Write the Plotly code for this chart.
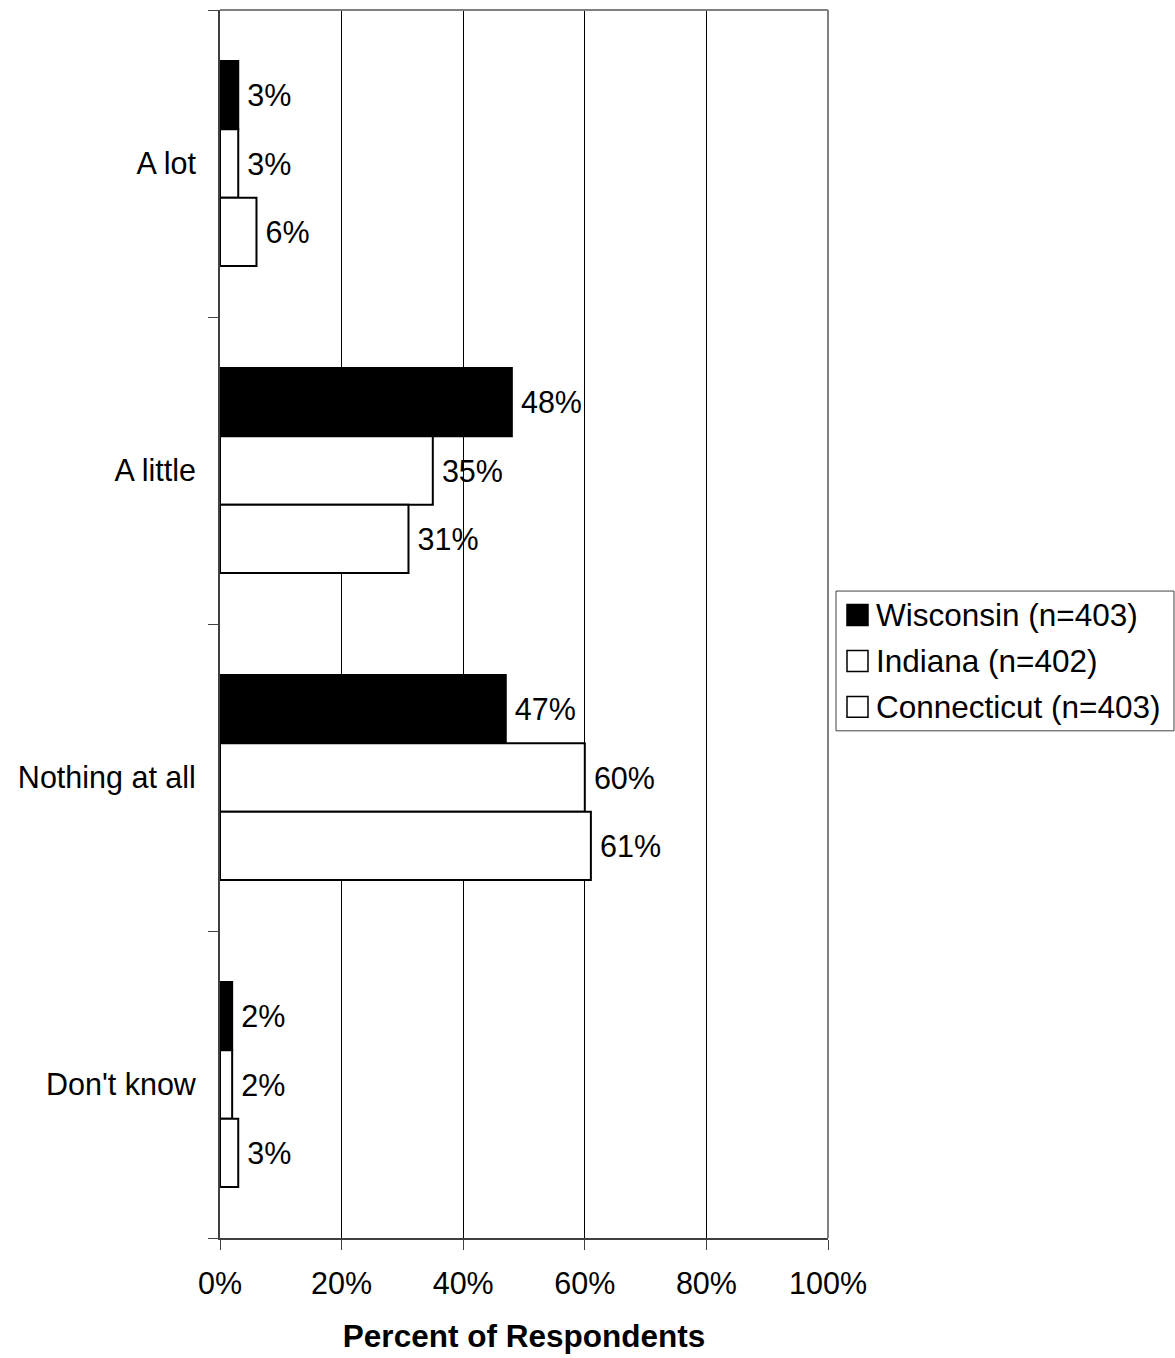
import plotly.graph_objects as go

# Survey responses, percent of respondents per state
categories = ["A lot", "A little", "Nothing at all", "Don't know"]
wisconsin = [3, 48, 47, 2]
indiana = [3, 35, 60, 2]
connecticut = [6, 31, 61, 3]
series_names = ["Wisconsin (n=403)", "Indiana (n=402)", "Connecticut (n=403)"]
series_fills = ["black", "white", "white"]
x_ticks = [0, 20, 40, 60, 80, 100]

FONT = "Arial"
W, H = 1175, 1358
M_L, M_R, M_T, M_B = 220, 347, 10, 118
positions = list(range(len(categories)))

fig = go.Figure()
for name, values, fill in zip(series_names, [wisconsin, indiana, connecticut],
                              series_fills):
    fig.add_trace(go.Bar(
        name=name,
        y=positions,
        x=values,
        orientation="h",
        marker=dict(color=fill, line=dict(color="black", width=2)),
        text=[f"\u2009{v}%" for v in values],
        textposition="outside",
        textfont=dict(family=FONT, size=30.5, color="black"),
        cliponaxis=False,
        showlegend=False,
    ))

fig.update_layout(
    width=W,
    height=H,
    margin=dict(l=M_L, r=M_R, t=M_T, b=M_B),
    paper_bgcolor="white",
    plot_bgcolor="white",
    barmode="group",
    bargap=0.333,
    bargroupgap=0,
    font=dict(family=FONT, size=30.5, color="black"),
    xaxis=dict(
        range=[0, 100],
        tickvals=x_ticks,
        ticktext=[f"{t}%" for t in x_ticks],
        ticks="outside", ticklen=10, tickcolor="#404040", tickwidth=1,
        ticklabelstandoff=7,
        showgrid=True, gridcolor="black", gridwidth=1,
        showline=True, linecolor="#404040", linewidth=2,
        zeroline=False,
        tickfont=dict(family=FONT, size=30.5),
        title=dict(text="<b>Percent of Respondents</b>",
                   font=dict(family=FONT, size=31.5), standoff=26),
    ),
    yaxis=dict(
        range=[len(categories) - 0.5, -0.5],
        tickvals=positions,
        ticktext=categories,
        ticks="",
        ticklabelstandoff=16,
        minor=dict(tick0=0.5, dtick=1, ticks="outside", ticklen=10,
                   tickcolor="#404040", tickwidth=1, showgrid=False),
        showgrid=False,
        showline=True, linecolor="#404040", linewidth=2,
        zeroline=False,
        tickfont=dict(family=FONT, size=30.5),
    ),
)

# Grey frame along the top and right of the plotting area
fig.add_shape(type="line", xref="paper", yref="paper", x0=0, x1=1, y0=1, y1=1,
              line=dict(color="#808080", width=2), layer="above")
fig.add_shape(type="line", xref="paper", yref="paper", x0=1, x1=1, y0=0, y1=1,
              line=dict(color="#808080", width=2), layer="above")

# Legend drawn as a framed box with large square swatches
plot_w = W - M_L - M_R
plot_h = H - M_T - M_B


def px_x(px):
    return (px - M_L) / plot_w


def px_y(py):
    return 1 - (py - M_T) / plot_h


box_left, box_right, box_top, box_bottom = 836, 1174, 592, 732
fig.add_shape(type="rect", xref="paper", yref="paper",
              x0=px_x(box_left), x1=px_x(box_right),
              y0=px_y(box_bottom), y1=px_y(box_top),
              line=dict(color="#404040", width=1), fillcolor="white")
row_centers = [616, 662, 708]
swatch = 21
for name, fill, cy in zip(series_names, series_fills, row_centers):
    fig.add_shape(type="rect", xref="paper", yref="paper",
                  x0=px_x(847), x1=px_x(847 + swatch),
                  y0=px_y(cy + swatch / 2), y1=px_y(cy - swatch / 2),
                  line=dict(color="black", width=1.5), fillcolor=fill)
    fig.add_annotation(xref="paper", yref="paper", x=px_x(874), y=px_y(cy),
                       xanchor="left", yanchor="middle", showarrow=False,
                       text=name, font=dict(family=FONT, size=31.5, color="black"))

fig.write_html("out.html")
